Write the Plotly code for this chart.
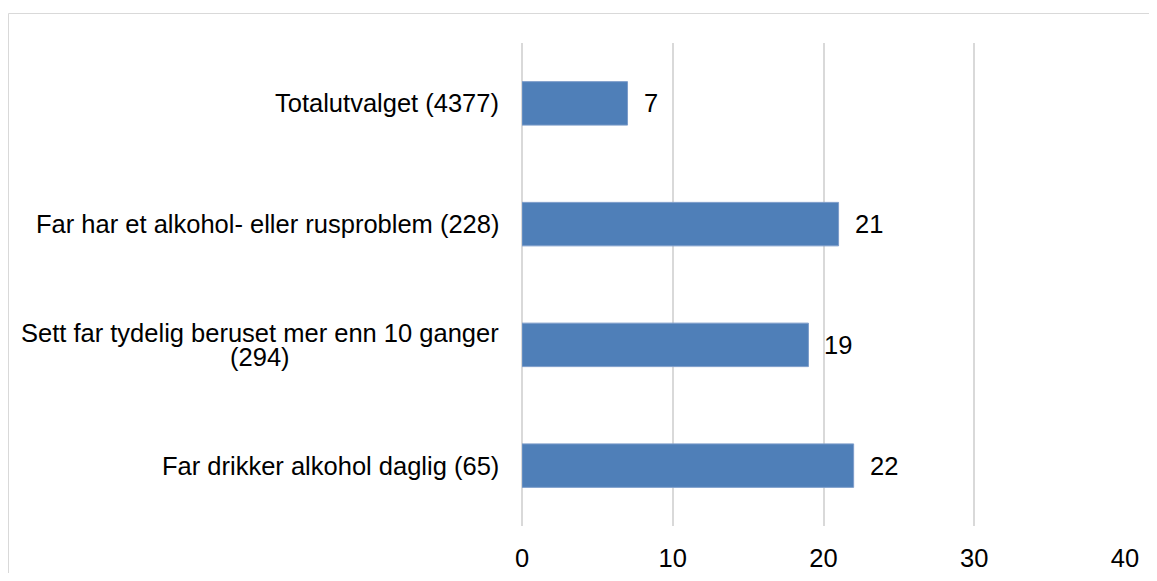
import plotly.graph_objects as go

categories = [
    "Totalutvalget (4377)",
    "Far har et alkohol- eller rusproblem (228)",
    "Sett far tydelig beruset mer enn 10 ganger<br>(294)",
    "Far drikker alkohol daglig (65)",
]
values = [7, 21, 19, 22]
x_ticks = [0, 10, 20, 30, 40]

FONT = "Liberation Sans, Arial, sans-serif"
FS = 25.5
OFF = 8  # browser body margin
W, H = 1157 - 2 * OFF, 581 - 2 * OFF
L, T = 522 - OFF, 43 - OFF
R = W - (1125 - OFF)
B = H - (526 - OFF)

fig = go.Figure()
fig.add_trace(go.Bar(
    y=categories, x=values, orientation="h",
    width=0.36,
    marker=dict(color="#4f7fb8", line=dict(color="#7d9dca", width=1)),
    hoverinfo="x+y",
))

annotations = []
for c, v in zip(categories, values):
    annotations.append(dict(x=v, y=c, xref="x", yref="y", text=str(v),
                            showarrow=False, xanchor="left", xshift=14,
                            font=dict(family=FONT, size=FS, color="#000")))
    lbl = "<br>".join(f'<span style="font-size:{FS}px">{p}</span>'
                      for p in c.split("<br>"))
    annotations.append(dict(x=0, y=c, xref="paper", yref="y", text=lbl,
                            showarrow=False, xanchor="right", align="center",
                            xshift=-21,
                            font=dict(family=FONT, size=18.5, color="#000")))

pw = W - L - R
ph = H - T - B
fig.add_shape(type="rect", xref="paper", yref="paper",
              x0=(8.5 - OFF - L) / pw, x1=(1170 - OFF - L) / pw,
              y0=-(600 - 526) / ph, y1=(526 - 13.5) / ph,
              line=dict(color="#d9d9d9", width=1), fillcolor="rgba(0,0,0,0)",
              layer="below")

fig.update_layout(
    width=W, height=H,
    margin=dict(l=L, r=R, t=T, b=B, pad=0, autoexpand=False),
    paper_bgcolor="white", plot_bgcolor="white",
    showlegend=False,
    annotations=annotations,
    xaxis=dict(range=[0, 40], tickvals=x_ticks, showgrid=True,
               automargin=False,
               gridcolor="#d9d9d9", gridwidth=1.5, zeroline=True,
               zerolinecolor="#d9d9d9", zerolinewidth=1.5,
               showline=False, ticks="outside", ticklen=9,
               tickcolor="rgba(0,0,0,0)",
               tickfont=dict(family=FONT, size=FS, color="#000")),
    yaxis=dict(autorange="reversed", showticklabels=False, showgrid=False,
               automargin=False,
               zeroline=False, showline=False),
)

fig.write_html("out.html")
